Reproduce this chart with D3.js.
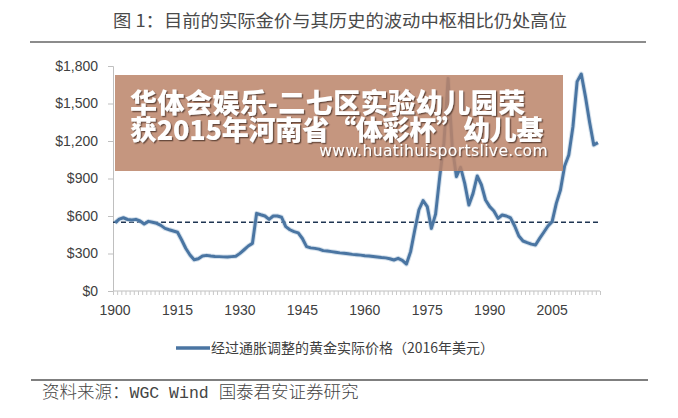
<!DOCTYPE html>
<html><head><meta charset="utf-8">
<script src="https://cdn.jsdelivr.net/npm/d3@7"></script>
<style>
html,body{margin:0;padding:0;background:#fff;}
svg{display:block;}
</style></head>
<body>
<svg id="c" width="678" height="418"></svg>
<script>
const startYear = 1900;
const endYear = 2016;
const goldPrice = [
 546,575,586,572,568,573,560,536,557,550,
 541,525,501,490,480,470,408,340,288,250,
 258,280,285,280,276,275,273,272,275,278,
 301,330,360,381,621,610,600,573,600,600,
 590,515,490,475,465,420,355,345,341,335,
 323,320,315,310,305,302,298,293,290,287,
 282,280,276,272,268,265,258,248,261,245,
 216,315,488,650,723,675,501,615,915,1181,
 1700,1155,915,990,861,688,781,920,850,728,
 675,640,581,608,600,585,520,440,400,387,
 375,368,421,470,520,555,701,808,1000,1088,
 1315,1675,1736,1555,1350,1168,1187
];
const meanLevel = 550;
const yTicks = [0,300,600,900,1200,1500,1800];
const xLabelYears = [1900,1915,1930,1945,1960,1975,1990,2005];
const titleText = "图 1：目前的实际金价与其历史的波动中枢相比仍处高位";
const legendText = "经过通胀调整的黄金实际价格（2016年美元）";
const sourceText = ["资料来源：", "WGC Wind ", "国泰君安证券研究"];
const watermark = ["华体会娱乐-二七区实验幼儿园荣", "获2015年河南省“体彩杯”幼儿基", "www.huatihuisportslive.com"];

const years = d3.range(startYear, endYear + 1);
const data = years.map((y, i) => ({year: y, v: goldPrice[i]}));

const svg = d3.select("#c");
const defs = svg.append("defs");
const f = defs.append("filter").attr("id", "sh").attr("x", "-5%").attr("y", "-10%").attr("width", "110%").attr("height", "120%");
f.append("feDropShadow").attr("dx", 1.3).attr("dy", 1.3).attr("stdDeviation", 0.6)
  .attr("flood-color", "#4a3228").attr("flood-opacity", 0.75);

const L = 113, R = 600, T = 66, B = 291;
const x = d3.scaleBand().domain(years).range([L, R]).padding(0);
const xi = d3.scaleLinear().domain([0, years.length]).range([L, R]);
const y = d3.scaleLinear().domain([0, 1800]).range([B, T]);
const grey = "#404040";

// title
svg.append("text").attr("x", 113).attr("y", 27)
  .attr("font-family", "'Noto Sans CJK SC'").attr("font-size", 17).attr("fill", "#4a4a4a")
  .attr("textLength", 454).attr("lengthAdjust", "spacingAndGlyphs")
  .text(titleText);
svg.append("line").attr("x1", 30).attr("x2", 646).attr("y1", 42).attr("y2", 42)
  .attr("stroke", "#666").attr("stroke-width", 1.5);

// y axis
const yAxis = d3.axisLeft(y).tickValues(yTicks).tickSize(5).tickPadding(10)
  .tickFormat(d3.format("$,.0f"));
const gy = svg.append("g").attr("transform", `translate(${L},0)`).call(yAxis);
gy.select(".domain").attr("stroke", "#bfbfbf");
gy.selectAll(".tick line").attr("stroke", "#bfbfbf");
gy.selectAll("text").attr("font-family", "'Liberation Sans', Arial").attr("font-size", 14).attr("fill", grey);

// x axis minor ticks
const xMinor = d3.axisBottom(xi).tickValues(d3.range(0, years.length + 1)).tickSize(4).tickFormat("");
const gxm = svg.append("g").attr("transform", `translate(0,${B})`).call(xMinor);
gxm.select(".domain").attr("stroke", "#bfbfbf").attr("d", `M${L},0H${R}`);
gxm.selectAll(".tick line").attr("stroke", "#c8c8c8");

// x labels
const xAxis = d3.axisBottom(x).tickValues(xLabelYears).tickSize(0).tickPadding(14);
const gx = svg.append("g").attr("transform", `translate(0,${B})`).call(xAxis);
gx.select(".domain").remove();
gx.selectAll("text").attr("font-family", "'Liberation Sans', Arial").attr("font-size", 14).attr("fill", grey);

// mean dashed line
svg.append("line")
  .attr("x1", x(startYear)).attr("x2", x(endYear) + x.bandwidth())
  .attr("y1", y(meanLevel)).attr("y2", y(meanLevel))
  .attr("stroke", "#1f3552").attr("stroke-width", 1.6).attr("stroke-dasharray", "5,3");

// series line
const line = d3.line().x(d => x(d.year) + x.bandwidth() / 2).y(d => y(d.v)).curve(d3.curveLinear);
svg.append("path").datum(data).attr("d", line).attr("fill", "none")
  .attr("stroke", "#b9cde0").attr("stroke-width", 5).attr("stroke-linejoin", "round").attr("opacity", 0.6);
svg.append("path").datum(data).attr("d", line).attr("fill", "none")
  .attr("stroke", "#4a75a2").attr("stroke-width", 3).attr("stroke-linejoin", "round");

// legend
svg.append("line").attr("x1", 176).attr("x2", 210).attr("y1", 348).attr("y2", 348)
  .attr("stroke", "#4a75a2").attr("stroke-width", 3.5);
svg.append("text").attr("x", 211).attr("y", 353)
  .attr("font-family", "'Noto Sans CJK SC'").attr("font-size", 14).attr("fill", grey)
  .attr("textLength", 283).attr("lengthAdjust", "spacingAndGlyphs")
  .text(legendText);

// footer
svg.append("line").attr("x1", 31).attr("x2", 648).attr("y1", 380).attr("y2", 380)
  .attr("stroke", "#555").attr("stroke-width", 1.5);
const ft = svg.append("text").attr("x", 42).attr("y", 398)
  .attr("font-size", 17.5).attr("fill", "#444");
ft.append("tspan").attr("font-family", "'Noto Sans CJK SC'").attr("font-weight", 300).text(sourceText[0]);
ft.append("tspan").attr("font-family", "'Liberation Mono', 'DejaVu Sans Mono'").attr("font-size", 16.5).text(sourceText[1]);
ft.append("tspan").attr("font-family", "'Noto Sans CJK SC'").attr("font-weight", 300).text(sourceText[2]);

// watermark overlay
const wm = svg.append("g");
wm.append("rect").attr("x", 115).attr("y", 75).attr("width", 448).attr("height", 96)
  .attr("fill", "#bb856a").attr("opacity", 0.86);
const wt = wm.append("text").attr("fill", "#fff").attr("filter", "url(#sh)");
wt.append("tspan").attr("x", 130).attr("y", 113)
  .attr("font-family", "'Noto Sans CJK SC'").attr("font-weight", 900).attr("font-size", 27)
  .attr("letter-spacing", 0.5).text(watermark[0]);
wt.append("tspan").attr("x", 130).attr("y", 140)
  .attr("font-family", "'Noto Sans CJK SC'").attr("font-weight", 900).attr("font-size", 27)
  .attr("letter-spacing", -0.2).text(watermark[1]);
wt.append("tspan").attr("x", 548).attr("y", 156).attr("text-anchor", "end")
  .attr("font-family", "'DejaVu Sans'").attr("font-size", 15.5).attr("letter-spacing", 0.4)
  .text(watermark[2]);
</script>
</body></html>
